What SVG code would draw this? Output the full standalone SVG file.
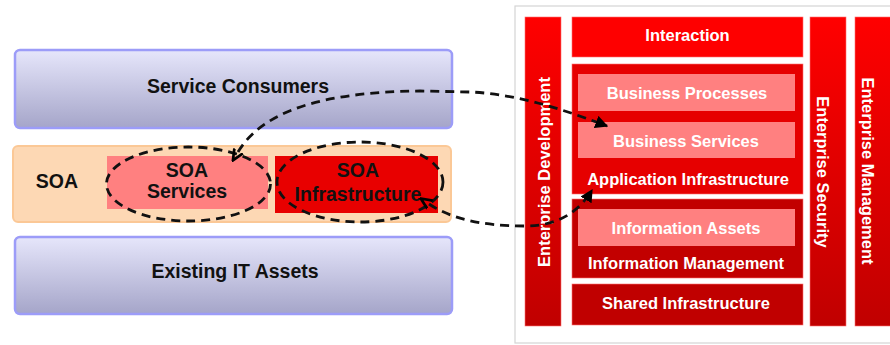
<svg xmlns="http://www.w3.org/2000/svg" width="890" height="345" viewBox="0 0 890 345">
  <defs>
    <linearGradient id="lavender" x1="0" y1="0" x2="0" y2="1">
      <stop offset="0" stop-color="#e6e6fb"/>
      <stop offset="1" stop-color="#a5a5c9"/>
    </linearGradient>
    <linearGradient id="redCol" x1="0" y1="0" x2="0" y2="1">
      <stop offset="0" stop-color="#ff0000"/>
      <stop offset="1" stop-color="#c00000"/>
    </linearGradient>
    <marker id="head" viewBox="0 0 10 10" refX="9" refY="5" markerWidth="4.6" markerHeight="4.6" orient="auto" markerUnits="strokeWidth">
      <path d="M0,0 L10,5 L0,10 Z" fill="#000"/>
    </marker>
    <marker id="tail" viewBox="0 0 10 10" refX="1" refY="5" markerWidth="4.4" markerHeight="4.4" orient="auto-start-reverse" markerUnits="strokeWidth">
      <path d="M0,1 L9,5 L0,9" fill="none" stroke="#000" stroke-width="2.2"/>
    </marker>
  </defs>
  <style>
    .layer { fill: url(#lavender); stroke: #9c9cf8; stroke-width: 2.5; }
    .band { fill: #fdd8b4; stroke: #fbc896; stroke-width: 2; }
    .lt { font-family: "Liberation Sans", Arial, sans-serif; font-weight: bold; font-size: 19.5px; fill: #111; text-anchor: middle; }
    .rt { font-family: "Liberation Sans", Arial, sans-serif; font-weight: bold; font-size: 16.5px; fill: #fff; text-anchor: middle; }
    .col { fill: url(#redCol); stroke: #ff7070; stroke-width: 0.6; }
    .box { stroke: #ff7070; stroke-width: 0.6; }
    .light { fill: #ff8080; }
    .dash { fill: none; stroke: #111; stroke-width: 2.8; stroke-dasharray: 9 6; }
  </style>

  <!-- left: SOA layering -->
  <g id="service-consumers">
    <rect class="layer" x="15" y="50" width="437" height="78" rx="5"/>
    <text class="lt" x="238" y="93">Service Consumers</text>
  </g>
  <g id="soa">
    <rect class="band" x="13" y="146" width="438" height="76" rx="5"/>
    <text class="lt" x="57" y="188">SOA</text>
  </g>
  <g id="soa-services">
    <rect x="107" y="156" width="161" height="53" fill="#ff8080"/>
    <text class="lt" x="187" y="177">SOA</text>
    <text class="lt" x="187" y="198">Services</text>
    <ellipse class="dash" cx="188.5" cy="184" rx="82" ry="37"/>
  </g>
  <g id="soa-infrastructure">
    <rect x="275" y="156" width="163" height="57" fill="#e80000"/>
    <text class="lt" x="358" y="177">SOA</text>
    <text class="lt" x="358" y="201">Infrastructure</text>
    <ellipse class="dash" cx="360" cy="182" rx="83" ry="40"/>
  </g>
  <g id="existing-it-assets">
    <rect class="layer" x="15" y="237" width="437" height="77" rx="5"/>
    <text class="lt" x="235" y="278">Existing IT Assets</text>
  </g>

  <!-- right: reference architecture -->
  <g id="frame">
    <rect x="515" y="6" width="385" height="337" fill="#fff" stroke="#d4d4d4" stroke-width="1.2"/>
  </g>
  <g id="enterprise-development">
    <rect class="col" x="525" y="17" width="36" height="309"/>
    <text class="rt" transform="translate(550,172) rotate(-90)">Enterprise Development</text>
  </g>
  <g id="interaction">
    <rect class="box" x="572" y="17" width="231" height="40" fill="#fe0000"/>
    <text class="rt" x="687.5" y="41">Interaction</text>
  </g>
  <g id="application-infrastructure">
    <rect class="box" x="572" y="64" width="231" height="130" fill="#e60000"/>
    <text class="rt" x="688" y="185">Application Infrastructure</text>
  </g>
  <g id="business-processes">
    <rect class="light" x="578" y="74" width="217" height="37"/>
    <text class="rt" x="687" y="99">Business Processes</text>
  </g>
  <g id="business-services">
    <rect class="light" x="578" y="122" width="217" height="36"/>
    <text class="rt" x="686" y="147">Business Services</text>
  </g>
  <g id="information-management">
    <rect class="box" x="572" y="199" width="231" height="79" fill="#c20000"/>
    <text class="rt" x="686" y="269">Information Management</text>
  </g>
  <g id="information-assets">
    <rect class="light" x="578" y="209" width="217" height="37"/>
    <text class="rt" x="686" y="234">Information Assets</text>
  </g>
  <g id="shared-infrastructure">
    <rect class="box" x="572" y="284" width="231" height="41" fill="#c00000"/>
    <text class="rt" x="686" y="309">Shared Infrastructure</text>
  </g>
  <g id="enterprise-security">
    <rect class="col" x="810" y="17" width="36" height="309"/>
    <text class="rt" transform="translate(817,172) rotate(90)">Enterprise Security</text>
  </g>
  <g id="enterprise-management">
    <rect class="col" x="855" y="17" width="40" height="309"/>
    <text class="rt" transform="translate(862,171) rotate(90)">Enterprise Management</text>
  </g>

  <!-- dashed links between both views -->
  <g id="connectors">
    <path class="dash" marker-start="url(#tail)" marker-end="url(#head)" d="M238,152 C262,112 320,92 420,91 L470,92 C520,94 570,112 607,126"/>
    <path class="dash" marker-start="url(#tail)" marker-end="url(#head)" d="M429,204 C450,218 480,226 525,226 C560,226 580,210 592,190"/>
  </g>
</svg>
